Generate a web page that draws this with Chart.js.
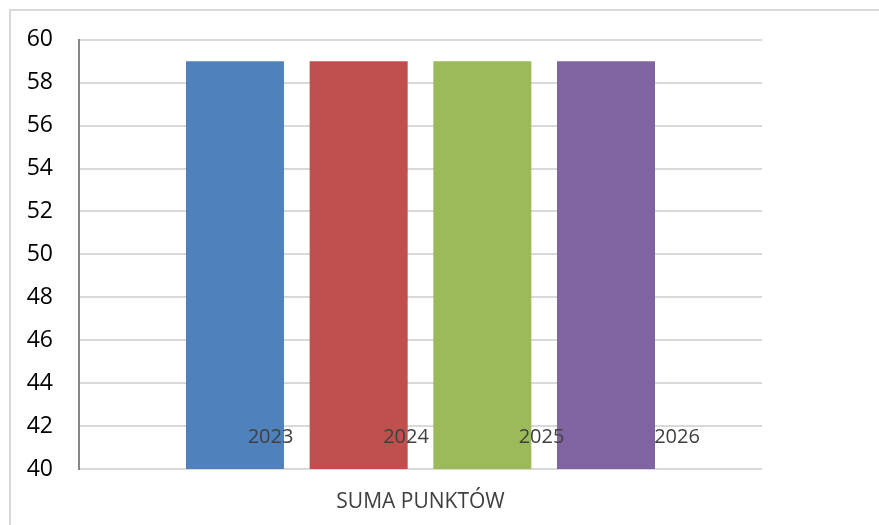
<!DOCTYPE html>
<html>
<head>
<meta charset="utf-8">
<script src="https://cdn.jsdelivr.net/npm/chart.js@4.4.1/dist/chart.umd.min.js"></script>
<style>
  html, body { margin: 0; padding: 0; background: #ffffff; }
  #wrap { position: relative; width: 879px; height: 525px; }
</style>
</head>
<body>
<div id="wrap"><canvas id="c" width="879" height="525"></canvas></div>
<script>
const categories = ['SUMA PUNKTÓW'];
const seriesNames = ['2023', '2024', '2025', '2026'];
const seriesValues = [[59], [59], [59], [59]];
const seriesColors = ['#4F81BD', '#C0504D', '#9BBB59', '#8064A2'];
const yMin = 40, yMax = 60, yStep = 2;

const FONT = "'Open Sans', 'Noto Sans', sans-serif";

const frame = {
  id: 'frame',
  beforeDraw(chart) {
    const ctx = chart.ctx;
    ctx.save();
    ctx.strokeStyle = '#d9d9d9';
    ctx.lineWidth = 2;
    ctx.beginPath();
    ctx.moveTo(2000, 10);
    ctx.lineTo(10, 10);
    ctx.lineTo(10, 2000);
    ctx.stroke();
    ctx.restore();
  }
};

const seriesLabels = {
  id: 'seriesLabels',
  afterDatasetsDraw(chart) {
    const ctx = chart.ctx;
    const area = chart.chartArea;
    const y = chart.scales.y.getPixelForValue(41.5);
    ctx.save();
    ctx.font = "20px " + FONT;
    ctx.fillStyle = '#404040';
    ctx.textAlign = 'center';
    ctx.textBaseline = 'middle';
    chart.data.datasets.forEach((ds, i) => {
      const x = area.left + area.width * (0.2804 + 0.1984 * i);
      ctx.fillText(ds.label, x, y);
    });
    ctx.restore();
  }
};

new Chart(document.getElementById('c'), {
  type: 'bar',
  data: {
    labels: categories,
    datasets: seriesNames.map((name, i) => ({
      label: name,
      data: seriesValues[i],
      backgroundColor: seriesColors[i],
      borderWidth: 0,
      categoryPercentage: 0.7243,
      barPercentage: 0.7925
    }))
  },
  options: {
    responsive: false,
    animation: false,
    devicePixelRatio: 1,
    layout: { padding: { left: 0, right: 117, top: 39, bottom: 0 } },
    plugins: {
      legend: { display: false },
      tooltip: { enabled: false },
      title: { display: false }
    },
    scales: {
      x: {
        grid: { display: false, drawTicks: false },
        border: { display: false },
        ticks: {
          color: '#404040',
          font: { family: FONT, size: 21 },
          padding: 20
        },
        afterFit(scale) { scale.height = 56; }
      },
      y: {
        min: yMin,
        max: yMax,
        ticks: {
          stepSize: yStep,
          color: '#000000',
          font: { family: FONT, size: 23 },
          padding: 26
        },
        grid: { color: '#d9d9d9', lineWidth: 2, drawTicks: false },
        border: { display: true, color: '#878787', width: 2 },
        afterFit(scale) { scale.width = 79; }
      }
    }
  },
  plugins: [frame, seriesLabels]
});
</script>
</body>
</html>
